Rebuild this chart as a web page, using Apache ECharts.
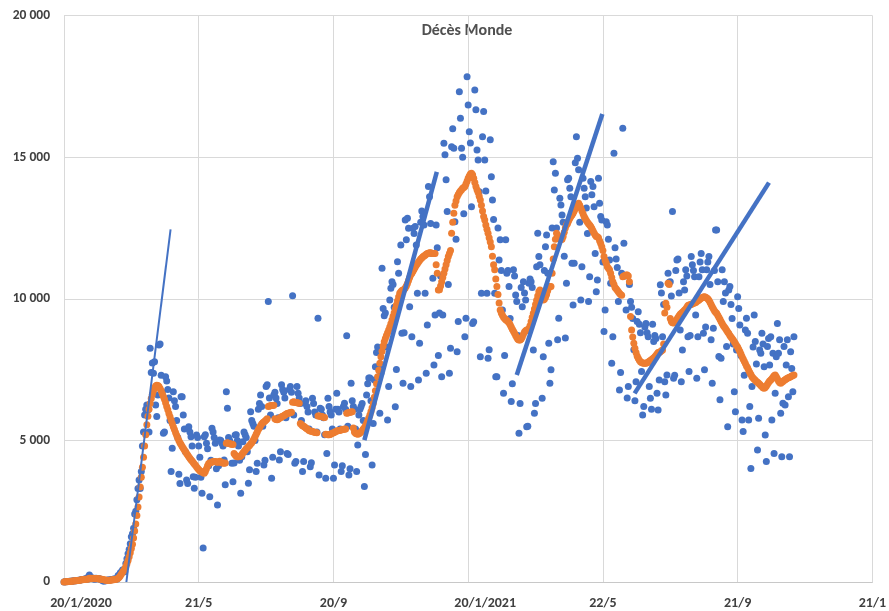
<!DOCTYPE html>
<html>
<head>
<meta charset="utf-8">
<script src="https://cdn.jsdelivr.net/npm/echarts@6/dist/echarts.min.js"></script>
<style>
html,body{margin:0;padding:0;background:#fff;}
#c{width:889px;height:611px;}
</style>
</head>
<body>
<div id="c"></div>
<script>
// Day 0 = 20/1/2020 ; one value per day
const xTickLabels = ['20/1/2020','21/5','20/9','20/1/2021','22/5','21/9','21/1'];
const yTickLabels = ['0','5 000','10 000','15 000','20 000'];
const chartTitle = 'Décès Monde';

// Daily deaths (blue dots)
const dailyDeaths = [
3,6,9,16,15,24,26, 26,38,43,46,45,57,64, 66,73,86,89,97,108,97, 146,103,248,122,143,143,105,
98,136,116,121,114,96,74, 52,30,49,44,58,67,72, 73,84,91,109,105,103,107, 230,200,330,350,420,430,360,
650,820,1000,1150,1350,1600,1700, 1900,2400,2500,2900,3300,3600,3300, 3900,4800,5300,5900,6100,6250,6070,
5300,8250,7400,7730,7370,7780,6250, 5840,6600,8370,8400,7300,6700,5250, 5300,7250,7100,6800,6500,5700,3900,
4720,6720,6400,6200,5700,5100,3800, 3480,6540,6540,5900,5400,4600,3600, 3480,5480,5300,5130,4800,3720,3310,
3700,5190,5100,4800,4400,3700,3130, 1200,5130,5200,4900,4700,4100,3010, 4300,5430,5300,5100,4900,4000,2720,
4100,5010,5000,4900,4800,4310,3430, 6720,6130,5100,5000,4900,4190,3540, 4200,5190,5200,5000,4800,4300,3130,
4420,4950,5300,5200,5100,4600,3490, 3960,6010,5700,5600,5500,5000,3900, 4190,6100,6300,6600,6200,5500,4130,
4300,6900,6960,9900,6500,5900,3660, 4400,6600,6700,6500,6300,5800,4310, 4600,6960,6800,6700,6500,5800,4540,
4500,6800,6900,6700,10110,5900,4190, 4250,6900,6660,6500,6300,5700,3900, 4250,6310,6400,6200,6000,5400,4070,
4210,6490,6300,6000,5900,5300,9310, 3780,6130,6100,5900,5800,5200,3660, 4540,6490,6200,6000,5900,5400,3660,
4130,6100,6660,6100,6000,5400,3900, 4100,6200,6310,6100,8690,5500,3780, 4000,7020,6400,6200,6100,5400,3900,
4840,5900,6100,6200,6300,5700,3370, 4500,6600,7000,7200,7200,6400,4130, 5600,7130,7600,8100,8300,7600,5960,
7370,11080,9660,9400,9500,8300,5720, 6900,9960,10370,10600,10500,9700,6190, 7500,11310,10900,9960,11900,8780,7020,
8800,12780,12080,12840,12490,9720,6900, 8660,12490,12300,12550,11900,10190,7130, 8430,12700,13100,12900,12600,10190,7370,
9070,13960,13600,12660,11600,10720,7660, 9430,12600,11800,8000,9500,10800,7250, 9430,15490,15080,14200,13080,10500,7370,
8250,15370,16000,15310,12720,12100,8130, 9200,17310,16370,15310,15000,13000,8660, 9310,17840,16840,15900,15500,13250,9130,
9190,17370,16670,15250,14900,13780,7950, 10190,15720,16610,14900,13800,10190,7900, 8200,15610,14310,13490,12800,10190,7250,
7250,12500,11370,12080,11000,9600,6660, 8000,12080,10900,11000,10430,9300,6370, 7000,11020,10800,10130,9900,8700,5250,
6300,10400,9720,10600,10200,9960,5480, 5500,10550,10700,10600,10400,8190,5960, 6300,11130,12310,11490,11200,10200,6490,
7950,11000,11840,12250,10900,8430,7020, 7490,12500,14840,13840,14430,12500,8550, 9310,13550,13310,12960,12700,11500,8610,
10550,14200,14250,13900,13600,11250,9780, 11250,14800,15720,14960,14550,12700,9960, 11130,14250,13900,13600,13200,12300,9900,
10780,14140,13670,13960,13250,11600,10250, 10660,14250,13370,12900,12780,11300,8840, 9600,12720,12600,12100,11370,10550,7720,
8660,15140,11800,11400,11100,9900,6780, 7400,10900,16020,11960,10800,9600,6500, 6900,10500,9900,9700,9300,8200,6400,
7070,9200,9540,9100,8800,7430,5900, 6200,9000,9130,8800,8660,6900,6490, 6100,9100,8490,8700,8600,6660,6070,
7130,10490,10200,8660,9800,7070,6600, 7310,10900,10580,10600,10100,13080,7190, 7300,11000,11370,11400,10200,8900,7070,
8190,10600,10310,11020,10800,8660,7430, 8700,11490,11200,11000,10780,9430,7190, 8660,10780,11300,11600,11020,8780,7490,
9000,11020,11300,11490,10500,8550,7020, 8960,11000,12430,12430,10600,7960,6430, 7900,11020,9900,10600,10200,8310,5480,
10310,10430,9800,9300,8400,6720,6010, 8190,10070,9660,9070,8000,5720,5310, 7300,8900,9310,8780,5720,6200,4010,
6900,8300,9430,8490,7700,4660,5780, 8190,8080,8780,8400,7600,5190,4250, 8310,8600,7660,8660,5720,8080,4540,
6660,7950,9130,8080,8550,5960,4420, 6310,8310,6250,7660,8550,6540,4420, 8130,7540,6720,8660
];

// 7-day average (orange dots)
const avgDeaths = [
4,6,8,12,16,20,24, 28,33,38,43,47,52,57, 64,70,76,82,88,94,96, 100,108,130,128,125,130,120,
118,125,122,115,110,104,98, 90,80,70,62,58,56,58, 64,70,76,82,88,96,105, 130,170,220,280,340,400,460,
540,640,760,890,1030,1180,1330, 1550,1800,2050,2350,2650,3000,3350, 3700,4050,4400,4800,5200,5550,5850,
6100,6300,6480,6620,6750,6850,6920, 6950,6940,6900,6830,6750,6650,6550, 6450,6330,6200,6080,5950,5830,5720,
5600,5480,5380,5280,5180,5080,5000, 4920,4850,4780,4720,4660,4600,4540, 4480,4420,4370,4320,4270,4220,4170,
4120,4070,4020,3970,3930,3900,3880, 3860,3840,3900,4000,4100,4180,4200, 4220,4240,4250,4250,4250,4240,4230,
4240,4260,4240,4210,4200,4190,4200, 4900,4920,4900,4880,4870,4860,4850, 4540,4480,4440,4420,4420,4430,4450,
4500,4550,4600,4650,4700,4740,4780, 4820,4870,4920,4980,5050,5130,5220, 5300,5380,5450,5520,5580,5620,5650,
5680,5720,5760,6200,6210,6220,6230, 6230,6240,5760,5740,5730,5750,5780, 5800,5830,5850,5870,5900,5920,5950,
5960,5970,5980,5990,6350,6360,6350, 6340,6330,6320,6310,5600,5560,5520, 5500,5470,5440,5410,5380,5350,5330,
5320,5310,5300,5290,5280,5270,5860, 5860,5850,5840,5830,5820,5810,5220, 5210,5200,5200,5210,5230,5250,5270,
5290,5310,5330,5340,5350,5360,5370, 5380,5390,5390,5400,5960,5970,5980, 5990,6000,6010,5440,5300,5250,5230,
5220,5230,5260,5300,5350,5400,5450, 5520,5600,5690,5790,5900,6020,6150, 6300,6520,6750,7000,7250,7480,7720,
7950,8150,8330,8480,8600,8700,8800, 8900,9000,9120,9250,9380,9510,9640, 9780,9920,10060,10190,10250,10290,10310,
10330,10380,10450,10540,10640,10750,10850, 10900,10970,11040,11110,11180,11240,11300, 11350,11400,11440,11480,11510,11540,11570,
11600,11610,11620,11620,11610,11600,11600, 11600,11200,10900,10310,10320,10450,10600, 10750,10900,11050,11200,11350,11490,11600,
11700,12310,12700,13020,13300,13450,13600, 13680,13750,13800,13850,13900,13930,13960, 14050,14150,14250,14330,14400,14430,14380,
14250,14100,13960,13850,13750,13620,13490, 13300,13100,12900,12780,12600,12450,12310, 12150,12000,11840,11500,11200,11020,10700,
10430,10150,9850,9600,9500,9420,9350, 9300,9260,9230,9200,9150,9080,9000, 8920,8850,8780,8700,8630,8570,8545,
8545,8580,8650,8750,8830,8870,8900, 8900,8950,9050,9200,9350,9490,9640, 9800,9950,10100,10250,10310,10200,10050,
9960,9980,10050,10150,10280,10400,10430, 10430,10900,11400,11840,12100,12310,12250, 12180,12120,12080,12100,12200,12350,12500,
12600,12660,12750,12830,12900,12960,13020, 13100,13180,13260,13330,13370,13300,13200, 13100,13000,12900,12830,12760,12700,12650,
12600,12550,12480,12400,12320,12250,12200, 12190,12150,12050,11950,11840,11700,11490, 11350,11250,11130,11080,11020,10900,10750,
10600,10500,10400,10350,10300,10250,10190, 10150,10120,10780,10800,10820,10840,10840, 10800,10600,9370,8900,8650,8430,8250,
8100,7980,7900,7830,7780,7750,7730, 7720,7720,7720,7740,7760,7790,7820, 7850,7880,7910,7950,8000,8050,8100,
8100,8130,8160,8190,8400,9500,9840, 9700,10550,10500,9300,9200,9150,9140, 9170,9220,9280,9340,9400,9450,9490,
9520,9560,9600,9640,9700,9760,9780, 9790,9800,9820,9840,9850,9870,9900, 9930,9960,9990,10020,10040,10060,10070,
10050,10030,10000,9950,9880,9800,9720, 9650,9580,9520,9490,9420,9350,9280, 9200,9130,9060,9000,8950,8890,8830,
8770,8700,8650,8600,8540,8480,8420, 8350,8300,8220,8140,8050,7950,7870, 7790,7710,7630,7560,7480,7400,7330,
7250,7200,7160,7120,7080,7050,7020, 6980,6940,6900,6860,6840,6870,6920, 6980,7040,7100,7130,7180,7230,7280,
7310,7250,7180,7100,7040,7020,7050, 7080,7110,7140,7170,7190,7210,7230, 7250,7270,7290,7310
];

// Trend lines: [day, deaths] end points
const trendA = [[56.5, 0], [96.5, 12450]];
const trendB = [[272, 5010], [337.6, 14480]];
const trendC = [[410, 7310], [487.5, 16520]];
const trendD = [[516.7, 6660], [638.4, 14100]];

const BLUE = '#4472C4', ORANGE = '#ED7D31';
const TXT = '#404040';
const FONT = 'Carlito, Lato, sans-serif';
const chart = echarts.init(document.getElementById('c'), null, {renderer: 'canvas'});
const baseText = {color: TXT, fontFamily: FONT, fontWeight: 'bold', fontSize: 14};

chart.setOption({
  animation: false,
  backgroundColor: '#fff',
  grid: {left: 64, right: 13, top: 15.5, bottom: 29, containLabel: false},
  graphic: [{
    type: 'text', x: 467, y: 31,
    style: {text: chartTitle, fill: '#505050', font: 'bold 16px ' + FONT, textAlign: 'center', textVerticalAlign: 'middle'}
  }],
  xAxis: {
    type: 'value', min: 0, max: 732, interval: 122,
    axisLine: {show: true, lineStyle: {color: '#c8c8c8', width: 1}},
    axisTick: {show: false},
    splitLine: {show: true, lineStyle: {color: '#d9d9d9', width: 1}},
    axisLabel: Object.assign({margin: 14, showMaxLabel: true, showMinLabel: true, hideOverlap: false,
      formatter: v => {
        const s = xTickLabels[Math.round(v / 122)] || '';
        return s.split('/').length > 2 ? '{yr|' + s + '}' : s;
      },
      rich: {yr: Object.assign({padding: [0, 0, 0, 34]}, baseText)}
    }, baseText)
  },
  yAxis: {
    type: 'value', min: 0, max: 20000, interval: 5000,
    axisLine: {show: true, lineStyle: {color: '#d9d9d9', width: 1}},
    axisTick: {show: false},
    splitLine: {show: true, lineStyle: {color: '#d9d9d9', width: 1}},
    axisLabel: Object.assign({margin: 14, formatter: v => yTickLabels[Math.round(v / 5000)]}, baseText, {fontSize: 13.5})
  },
  series: [
    {type: 'scatter', data: dailyDeaths.map((v, i) => [i, v]), symbolSize: 7,
     itemStyle: {color: BLUE, opacity: 1}, z: 2, silent: true},
    {type: 'scatter', data: avgDeaths.map((v, i) => [i, v]), symbolSize: 7,
     itemStyle: {color: ORANGE, opacity: 1}, z: 3, silent: true},
    {type: 'line', data: trendA, symbol: 'none', lineStyle: {color: BLUE, width: 2}, z: 4, silent: true},
    {type: 'line', data: trendB, symbol: 'none', lineStyle: {color: BLUE, width: 4.5}, z: 4, silent: true},
    {type: 'line', data: trendC, symbol: 'none', lineStyle: {color: BLUE, width: 4.5}, z: 4, silent: true},
    {type: 'line', data: trendD, symbol: 'none', lineStyle: {color: BLUE, width: 4.5}, z: 4, silent: true}
  ]
});
</script>
</body>
</html>
